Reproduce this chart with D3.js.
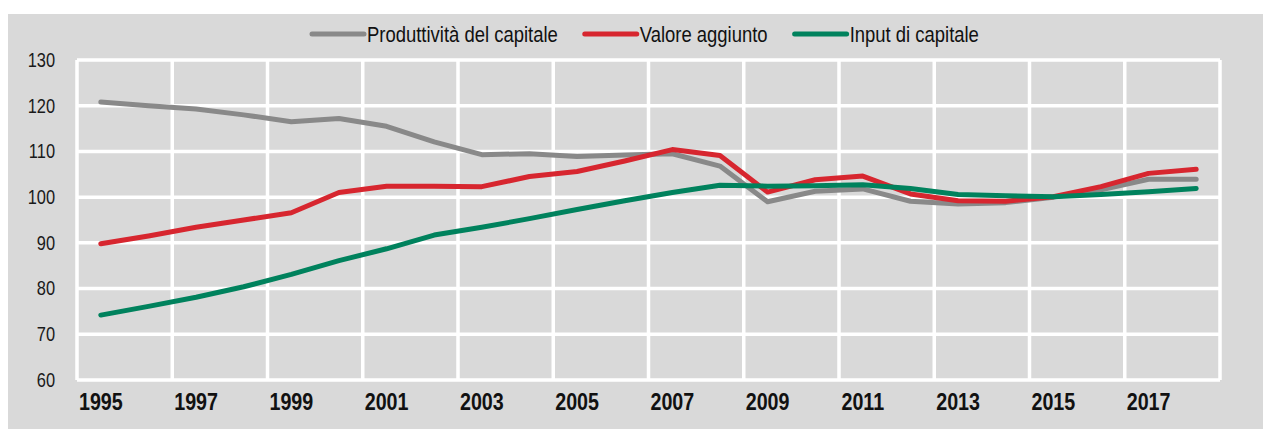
<!DOCTYPE html>
<html>
<head>
<meta charset="utf-8">
<script src="https://cdn.jsdelivr.net/npm/d3@7"></script>
<style>
  html, body { margin: 0; padding: 0; background: #ffffff; }
  svg { display: block; }
  text { font-family: "Liberation Sans", Arial, sans-serif; }
</style>
</head>
<body>
<svg id="chart" width="1263" height="429"></svg>
<script>
const years = d3.range(1995, 2019);
const xTickLabels = ["1995","1997","1999","2001","2003","2005","2007","2009","2011","2013","2015","2017"];
const yTicks = [60, 70, 80, 90, 100, 110, 120, 130];

const seriesNames = ["Produttività del capitale", "Valore aggiunto", "Input di capitale"];
const produttivita = [120.8, 120.0, 119.3, 118.0, 116.5, 117.2, 115.5, 112.1, 109.3, 109.5, 108.9, 109.2, 109.5, 106.8, 99.0, 101.3, 101.8, 99.1, 98.5, 98.8, 100.0, 101.6, 103.9, 103.9];
const valoreAggiunto = [89.8, 91.5, 93.4, 95.0, 96.6, 101.0, 102.4, 102.4, 102.3, 104.5, 105.6, 107.9, 110.4, 109.1, 101.1, 103.8, 104.6, 100.7, 99.2, 99.1, 100.1, 102.3, 105.2, 106.1];
const inputCapitale = [74.2, 76.1, 78.1, 80.4, 83.1, 86.1, 88.7, 91.7, 93.4, 95.3, 97.3, 99.2, 101.0, 102.6, 102.4, 102.5, 102.7, 101.9, 100.6, 100.3, 100.1, 100.6, 101.2, 101.9];
const colors = ["#898989", "#d7262f", "#00825d"];

const svg = d3.select("#chart");
const W = 1263, H = 429;
const plot = { left: 77, right: 1220, top: 60, bottom: 380 };
const condense = 0.82;

function narrow(sel) {
  sel.each(function () {
    const w = this.getComputedTextLength();
    d3.select(this).attr("textLength", w * condense).attr("lengthAdjust", "spacingAndGlyphs");
  });
}

svg.append("rect").attr("x", 8).attr("y", 14).attr("width", W - 8).attr("height", H - 14).attr("fill", "#d9d9d9");

const x = d3.scaleBand().domain(years).range([plot.left, plot.right]).padding(0);
const y = d3.scaleLinear().domain([60, 130]).range([plot.bottom, plot.top]);

// horizontal gridlines
const grid = svg.append("g").attr("stroke", "#ffffff").attr("stroke-width", 3.5).attr("fill", "none");
grid.selectAll("line.h").data(yTicks).join("line")
  .attr("x1", plot.left).attr("x2", plot.right)
  .attr("y1", d => y(d)).attr("y2", d => y(d));
// vertical gridlines at category boundaries, every 2 categories
const vYears = years.filter((d, i) => i % 2 === 0);
grid.selectAll("line.v").data(vYears).join("line")
  .attr("x1", d => x(d)).attr("x2", d => x(d))
  .attr("y1", plot.top).attr("y2", plot.bottom);
grid.append("line").attr("x1", plot.right).attr("x2", plot.right).attr("y1", plot.top).attr("y2", plot.bottom);

// y axis labels
const yAxis = d3.axisLeft(y).tickValues(yTicks).tickSize(0).tickPadding(0);
const gy = svg.append("g").attr("transform", `translate(${plot.left - 22},0)`).call(yAxis);
gy.select(".domain").remove();
gy.selectAll("text").attr("font-size", 20).attr("fill", "#1a1a1a")
  .style("font-family", '"Liberation Sans", Arial, sans-serif')
  .call(narrow);

// x axis labels
const xAxis = d3.axisBottom(x).tickValues(xTickLabels.map(Number)).tickSize(0).tickPadding(0).tickFormat(d => String(d));
const gx = svg.append("g").attr("transform", `translate(0,${plot.bottom + 13})`).call(xAxis);
gx.select(".domain").remove();
gx.selectAll("text").attr("font-size", 24).attr("font-weight", "bold").attr("fill", "#111111")
  .attr("dy", "0.71em")
  .style("font-family", '"Liberation Sans", Arial, sans-serif')
  .call(narrow);

// lines
const allSeries = [produttivita, valoreAggiunto, inputCapitale];
const line = d3.line().x((d, i) => x(years[i]) + x.bandwidth() / 2).y(d => y(d));
svg.append("g").selectAll("path").data(allSeries).join("path")
  .attr("d", d => line(d))
  .attr("fill", "none")
  .attr("stroke", (d, i) => colors[i])
  .attr("stroke-width", 5)
  .attr("stroke-linejoin", "round")
  .attr("stroke-linecap", "round");

// legend
const legend = svg.append("g");
let lx = 312;
const ly = 34;
seriesNames.forEach((name, i) => {
  legend.append("line").attr("x1", lx).attr("x2", lx + 52).attr("y1", ly).attr("y2", ly)
    .attr("stroke", colors[i]).attr("stroke-width", 5).attr("stroke-linecap", "round");
  const t = legend.append("text").attr("x", lx + 55).attr("y", ly).attr("dy", "0.36em")
    .attr("font-size", 22.5).attr("fill", "#111111").text(name);
  const raw = t.node().getComputedTextLength();
  const w = raw * condense;
  t.attr("textLength", w).attr("lengthAdjust", "spacingAndGlyphs");
  lx = lx + 55 + w + 27;
});
</script>
</body>
</html>
